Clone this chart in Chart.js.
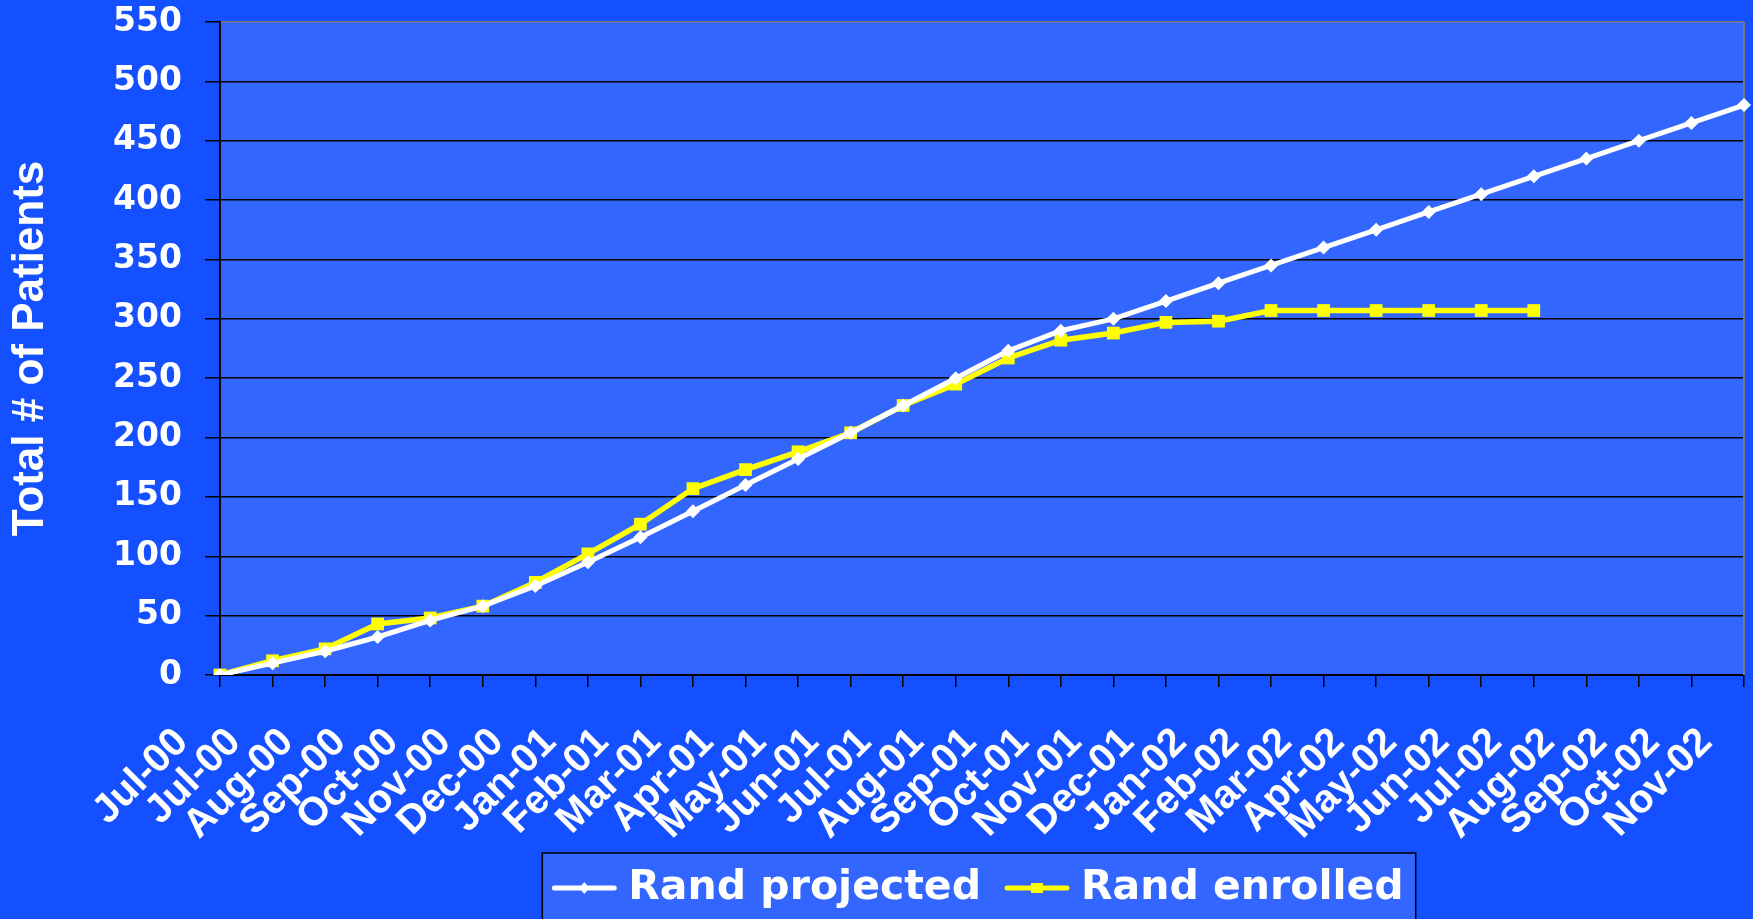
<!DOCTYPE html>
<html>
<head>
<meta charset="utf-8">
<script src="https://cdn.jsdelivr.net/npm/chart.js@4.4.0/dist/chart.umd.min.js"></script>
<style>
  html, body { margin: 0; padding: 0; background: #1450ff; }
  #wrap { width: 1753px; height: 919px; }
</style>
</head>
<body>
<div id="wrap"><canvas id="myChart" width="1753" height="919"></canvas></div>
<script>
// month labels (the first month appears twice in the original)
var meses = ['Jul-00','Jul-00','Aug-00','Sep-00','Oct-00','Nov-00','Dec-00','Jan-01','Feb-01','Mar-01',
  'Apr-01','May-01','Jun-01','Jul-01','Aug-01','Sep-01','Oct-01','Nov-01','Dec-01','Jan-02',
  'Feb-02','Mar-02','Apr-02','May-02','Jun-02','Jul-02','Aug-02','Sep-02','Oct-02','Nov-02'];

var proyectados = [0,10,20,32,46,58,75,95,116,138,160,182,204,227,250,273,290,300,315,330,
  345,360,375,390,405,420,435,450,465,480];

var inscritos = [0,12,22,43,48,58,78,102,127,157,173,188,204,227,245,267,282,288,297,298,
  307,307,307,307,307,307,null,null,null,null];

var yTicks = [0,50,100,150,200,250,300,350,400,450,500,550];

var nombres = ['Rand projected', 'Rand enrolled'];
var colores = ['#ffffff', '#ffff00'];

// plot area fill + right border
var fondoPlot = {
  id: 'fondoPlot',
  beforeDraw: function(chart){
    var a = chart.chartArea, c = chart.ctx;
    c.save();
    c.fillStyle = '#3366ff';
    c.fillRect(a.left, a.top, a.right - a.left, a.bottom - a.top);
    c.restore();
  },
  beforeDatasetsDraw: function(chart){
    var a = chart.chartArea, c = chart.ctx;
    c.save();
    c.strokeStyle = '#7a7a7a';
    c.lineWidth = 2;
    c.beginPath();
    c.moveTo(a.right, a.top);
    c.lineTo(a.right, a.bottom);
    c.stroke();
    c.restore();
  }
};

// legend box at the bottom, line sample with marker like Excel
var leyenda = {
  id: 'leyenda',
  afterDraw: function(chart){
    var c = chart.ctx;
    c.save();
    c.font = 'bold 41px "DejaVu Sans"';
    var muestra = 60, gap1 = 14, gap2 = 26, padX = 12;
    var anchos = nombres.map(function(n){ return c.measureText(n).width; });
    var total = padX*2 + muestra*2 + gap1*2 + gap2 + anchos[0] + anchos[1];
    var cx = 979;
    var x0 = cx - total/2, top = 853, yc = 888;
    c.fillStyle = '#3366ff';
    c.fillRect(x0, top, total, 919 - top + 5);
    c.strokeStyle = '#000000';
    c.lineWidth = 1.5;
    c.strokeRect(x0, top, total, 919 - top + 5);
    var x = x0 + padX;
    for (var i = 0; i < nombres.length; i++){
      c.strokeStyle = colores[i];
      c.fillStyle = colores[i];
      c.lineWidth = 5;
      c.lineCap = 'round';
      c.beginPath();
      c.moveTo(x, yc);
      c.lineTo(x + muestra, yc);
      c.stroke();
      var mx = x + muestra/2;
      c.beginPath();
      if (i === 0){
        c.moveTo(mx, yc - 6); c.lineTo(mx + 5, yc); c.lineTo(mx, yc + 6); c.lineTo(mx - 5, yc);
      } else {
        c.rect(mx - 6, yc - 5, 12, 10);
      }
      c.closePath();
      c.fill();
      x += muestra + gap1;
      c.fillStyle = '#ffffff';
      c.textBaseline = 'middle';
      c.textAlign = 'left';
      c.fillText(nombres[i], x, yc);
      x += anchos[i] + gap2;
    }
    c.restore();
  }
};

var data1 = {
  labels: meses,
  datasets: [
    {
      label: nombres[0],
      data: proyectados,
      borderColor: colores[0],
      backgroundColor: colores[0],
      borderWidth: 5,
      pointStyle: 'rectRot',
      pointRadius: 7,
      pointBorderWidth: 0,
      pointBackgroundColor: colores[0],
      lineTension: 0
    },
    {
      label: nombres[1],
      data: inscritos,
      borderColor: colores[1],
      backgroundColor: colores[1],
      borderWidth: 5.5,
      pointStyle: 'rect',
      pointRadius: 9,
      pointBorderWidth: 0,
      pointBackgroundColor: colores[1],
      lineTension: 0,
      spanGaps: false
    }
  ]
};

var config1 = {
  type: 'line',
  data: data1,
  options: {
    responsive: false,
    animation: false,
    devicePixelRatio: 1,
    layout: { padding: { top: 22, right: 5, bottom: 69, left: 0 } },
    plugins: { legend: { display: false }, tooltip: { enabled: false } },
    scales: {
      x: {
        offset: false,
        grid: { drawOnChartArea: false, drawTicks: true, tickLength: 12, tickColor: '#000000', lineWidth: 1.5 },
        border: { color: '#000000', width: 2 },
        ticks: {
          autoSkip: false,
          minRotation: 45,
          maxRotation: 45,
          padding: 32,
          labelOffset: -38,
          color: '#ffffff',
          font: { family: '"Liberation Sans", Arial', size: 40, weight: 'bold' }
        },
        afterFit: function(s){ s.height = 175; s.paddingLeft = 0; s.paddingRight = 0; }
      },
      y: {
        min: 0,
        max: 550,
        afterBuildTicks: function(s){ s.ticks = yTicks.map(function(v){ return { value: v }; }); },
        grid: {
          color: function(ctx){ return ctx.tick && ctx.tick.value === 550 ? '#7a7a7a' : '#000000'; },
          tickColor: '#000000',
          lineWidth: 1.5,
          tickLength: 15
        },
        border: { color: '#000000', width: 2 },
        ticks: {
          padding: 23,
          color: '#ffffff',
          font: { family: '"DejaVu Sans"', size: 33, weight: 'bold' }
        },
        title: {
          display: true,
          text: 'Total # of Patients',
          color: '#ffffff',
          padding: { top: 4, bottom: 0 },
          font: { family: '"Liberation Sans", Arial', size: 44, weight: 'bold' }
        },
        afterFit: function(s){ s.width = 220; s.paddingTop = 0; s.paddingBottom = 0; }
      }
    }
  },
  plugins: [fondoPlot, leyenda]
};

var g_principal = document.getElementById('myChart');
var myChart1 = new Chart(g_principal, config1);
</script>
</body>
</html>
